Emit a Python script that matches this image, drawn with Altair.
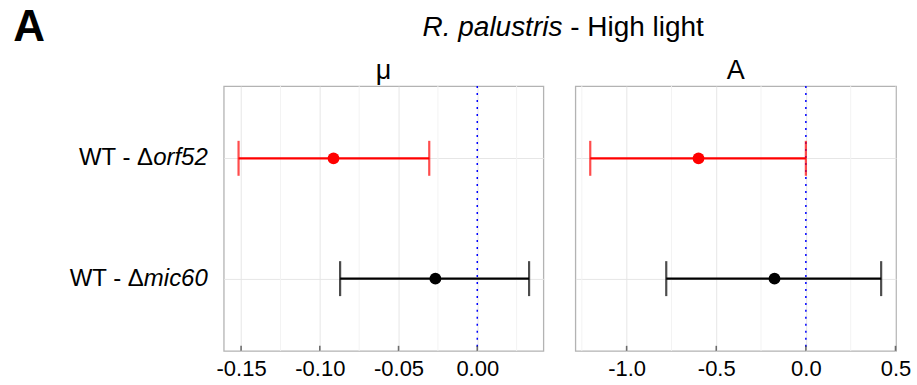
import altair as alt
import pandas as pd

# ---------------- data ----------------
comparisons = ["WT - Δorf52", "WT - Δmic60"]
label_plain = ["WT - Δ", "WT - Δ"]
label_italic = ["orf52", "mic60"]
group_colors = ["#FF0000", "#000000"]

mu_est = [-0.0913, -0.0266]
mu_low = [-0.1516, -0.0871]
mu_high = [-0.0305, 0.0329]

a_est = [-0.599, -0.175]
a_low = [-1.203, -0.779]
a_high = [0.0, 0.42]

mu_ticks = [-0.15, -0.10, -0.05, 0.00]
mu_minor = [-0.125, -0.075, -0.025, 0.025]
a_ticks = [-1.0, -0.5, 0.0, 0.5]
a_minor = [-1.25, -0.75, -0.25, 0.25]

mu_domain = [-0.161, 0.042]
a_domain = [-1.286, 0.503]

title_italic = "R. palustris"
title_plain = "- High light"
panel_letter = "A"
facet_titles = ["μ", "A"]

# ---------------- styling ----------------
FONT = "Liberation Sans"
TICK_SIZE = 22
YLAB_SIZE = 24
H = 265
W_LEFT = 320
W_RIGHT = 321

# Arial / Liberation Sans advance widths (em) for label text measuring
CHAR_W = {"o": 0.556, "r": 0.333, "f": 0.278, "5": 0.556, "2": 0.556,
          "m": 0.833, "i": 0.222, "c": 0.5, "6": 0.556, "0": 0.556}


def text_width(s, size):
    return sum(CHAR_W.get(ch, 0.556) for ch in s) * size


def panel(est, low, high, ticks, minor, domain, fmt, facet_title, width, first):
    df = pd.DataFrame({"comp": comparisons, "est": est, "low": low, "high": high,
                       "col": group_colors, "plain": label_plain, "ital": label_italic})
    xscale = alt.Scale(domain=domain, nice=False, zero=False)
    label_expr = (f"datum.value < 0 ? '-' + format(-datum.value, '{fmt}') "
                  f": format(datum.value, '{fmt}')")
    xaxis = alt.Axis(values=ticks, labelExpr=label_expr, title=None, labelFont=FONT,
                     labelFontSize=TICK_SIZE, labelColor="#000000", labelPadding=8,
                     ticks=False, tickSize=0, domain=False, grid=True,
                     gridColor="#E6E6E6", gridWidth=1, labelFlush=False)
    yscale = alt.Scale(type="point", padding=0.6, domain=comparisons)
    yaxis = alt.Axis(labels=False, ticks=False, domain=False, title=None,
                     grid=True, gridColor="#E6E6E6", gridWidth=1)

    def X(field):
        return alt.X(field, type="quantitative", scale=xscale, axis=xaxis)

    Y = alt.Y("comp:N", scale=yscale, axis=yaxis, sort=comparisons)
    color = alt.Color("col:N", scale=None)

    base = alt.Chart(df)
    minor_df = pd.DataFrame({"v": minor})
    tick_df = pd.DataFrame({"v": ticks})

    layers = [
        alt.Chart(minor_df).mark_rule(color="#F3F3F3", strokeWidth=1).encode(x=X("v")),
        base.mark_rule(color="#FFFFFF", opacity=0).encode(x=X("est"), y=Y),
        alt.Chart(tick_df.iloc[:1]).mark_rule(color="#0000FF", strokeWidth=1.5,
                                             strokeDash=[2, 5]).encode(
            x=alt.X(datum=0, type="quantitative", scale=xscale, axis=xaxis)),
        base.mark_rule(strokeWidth=2.2).encode(x=X("low"), x2="high:Q", y=Y, color=color),
        base.mark_tick(thickness=2.2, size=35).encode(x=X("low"), y=Y, color=color),
        base.mark_tick(thickness=2.2, size=35).encode(x=X("high"), y=Y, color=color),
        base.mark_circle(size=140, opacity=1).encode(x=X("est"), y=Y, color=color),
        alt.Chart(tick_df).mark_tick(size=5, thickness=1.6, color="#333333").encode(
            x=X("v"), y=alt.value(H - 2.5)),
        alt.Chart(pd.DataFrame({"t": [facet_title]})).mark_text(
            font=FONT, fontSize=27, align="center", baseline="alphabetic", color="#000000"
        ).encode(text="t:N", x=alt.value(width / 2), y=alt.value(-7)),
    ]

    if first:
        # y labels with italic gene names
        layers.append(base.mark_text(font=FONT, fontSize=YLAB_SIZE, fontStyle="italic",
                                     align="right", baseline="middle", color="#000000"
                                     ).encode(x=alt.value(-16), y=Y, text="ital:N"))
        for comp, ital in zip(comparisons, label_italic):
            layers.append(base.transform_filter(alt.datum.comp == comp).mark_text(
                font=FONT, fontSize=YLAB_SIZE, align="right", baseline="middle",
                color="#000000", dx=-text_width(ital, YLAB_SIZE)
            ).encode(x=alt.value(-16), y=Y, text="plain:N"))
        # overall title
        tdf = pd.DataFrame({"a": [title_italic], "b": [title_plain], "p": [panel_letter]})
        layers.append(alt.Chart(tdf).mark_text(font=FONT, fontSize=28, fontStyle="italic",
                                               align="right", baseline="alphabetic",
                                               color="#000000").encode(
            text="a:N", x=alt.value(339), y=alt.value(-50)))
        layers.append(alt.Chart(tdf).mark_text(font=FONT, fontSize=28,
                                               align="left", baseline="alphabetic",
                                               color="#000000").encode(
            text="b:N", x=alt.value(339 + 0.278 * 28), y=alt.value(-50)))
        layers.append(alt.Chart(tdf).mark_text(font=FONT, fontSize=44, fontWeight="bold",
                                               align="left", baseline="alphabetic",
                                               color="#000000").encode(
            text="p:N", x=alt.value(-210.7), y=alt.value(-45)))

    return alt.layer(*layers).properties(width=width, height=H)


left = panel(mu_est, mu_low, mu_high, mu_ticks, mu_minor, mu_domain, ".2f",
             facet_titles[0], W_LEFT, True)
right = panel(a_est, a_low, a_high, a_ticks, a_minor, a_domain, ".1f",
              facet_titles[1], W_RIGHT, False)

chart = alt.hconcat(left, right, spacing=32, bounds="flush").properties(
    padding={"left": 12, "top": 5, "right": 5, "bottom": 5},
    background="white",
).configure_view(stroke="#B3B3B3", strokeWidth=1.3)

chart.save("out.html", embed_options={"renderer": "svg", "actions": False})
